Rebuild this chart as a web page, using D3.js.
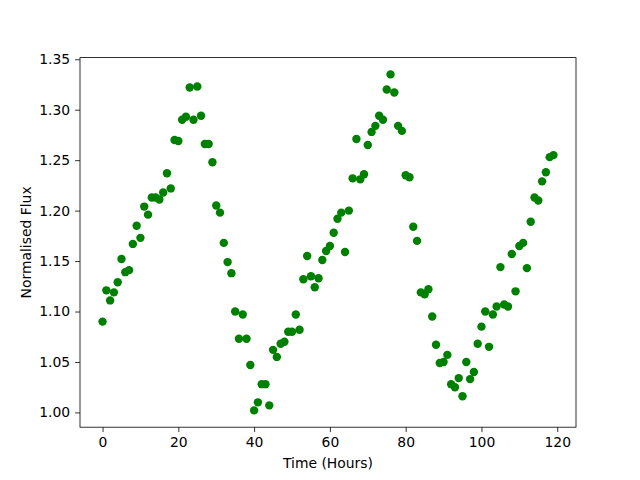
<!DOCTYPE html>
<html><head><meta charset="utf-8">
<script src="https://cdn.jsdelivr.net/npm/d3@7"></script>
<style>body{margin:0;background:#fff}svg{display:block}text{font-family:"DejaVu Sans",sans-serif}</style>
</head><body>
<script>
const hours = d3.range(0, 120);
const flux = [1.090,1.121,1.111,1.119,1.129,1.152,1.139,1.141,1.167,1.185,
1.173,1.204,1.196,1.213,1.213,1.211,1.218,1.237,1.222,1.270,
1.269,1.290,1.293,1.322,1.290,1.323,1.294,1.266,1.266,1.248,
1.205,1.198,1.168,1.149,1.138,1.100,1.073,1.097,1.073,1.047,
1.002,1.010,1.028,1.028,1.007,1.062,1.055,1.068,1.070,1.080,
1.080,1.097,1.082,1.132,1.155,1.135,1.124,1.133,1.151,1.160,
1.165,1.178,1.192,1.198,1.159,1.200,1.232,1.271,1.231,1.236,
1.265,1.278,1.284,1.294,1.290,1.320,1.335,1.317,1.284,1.279,
1.235,1.233,1.184,1.170,1.119,1.117,1.122,1.095,1.067,1.049,
1.050,1.057,1.028,1.025,1.034,1.016,1.050,1.033,1.040,1.068,
1.085,1.100,1.065,1.097,1.105,1.144,1.107,1.105,1.157,1.120,
1.165,1.168,1.143,1.189,1.213,1.210,1.229,1.238,1.253,1.255];
const xTicks = [0,20,40,60,80,100,120];
const yTicks = [1.00,1.05,1.10,1.15,1.20,1.25,1.30,1.35];

const W=640,H=480, L=80, R=576, T=57.6, B=427.2;
const svg = d3.select("body").append("svg").attr("width",W).attr("height",H);
const xmin=d3.min(hours), xmax=d3.max(hours), ymin=d3.min(flux), ymax=d3.max(flux);
const xm=(xmax-xmin)*0.05, ym=(ymax-ymin)*0.05;
const x = d3.scaleLinear().domain([xmin-xm, xmax+xm]).range([L,R]);
const y = d3.scaleLinear().domain([ymin-ym, ymax+ym]).range([B,T]);

svg.append("g").selectAll("circle").data(hours).join("circle")
  .attr("cx",d=>x(d)).attr("cy",(d,i)=>y(flux[i])).attr("r",4.2).attr("fill","#008000");

const fs="13.9px";
const gx = svg.append("g").attr("transform",`translate(0,${B})`)
  .call(d3.axisBottom(x).tickValues(xTicks).tickFormat(d3.format("d")).tickSize(4.9).tickPadding(4.9));
const gy = svg.append("g").attr("transform",`translate(${L},0)`)
  .call(d3.axisLeft(y).tickValues(yTicks).tickFormat(d3.format(".2f")).tickSize(4.9).tickPadding(4.9));
[gx,gy].forEach(g=>{g.select(".domain").remove();g.selectAll("text").style("font-size",fs).attr("fill","#000");g.selectAll("line").attr("stroke","#000").attr("stroke-width",0.8);});

svg.append("rect").attr("x",L).attr("y",T).attr("width",R-L).attr("height",B-T)
  .attr("fill","none").attr("stroke","#000").attr("stroke-width",0.8);

svg.append("text").attr("x",(L+R)/2).attr("y",468).attr("text-anchor","middle").style("font-size",fs).text("Time (Hours)");
svg.append("text").attr("transform",`translate(31,${(T+B)/2}) rotate(-90)`).attr("text-anchor","middle").style("font-size",fs).text("Normalised Flux");
</script>
</body></html>
